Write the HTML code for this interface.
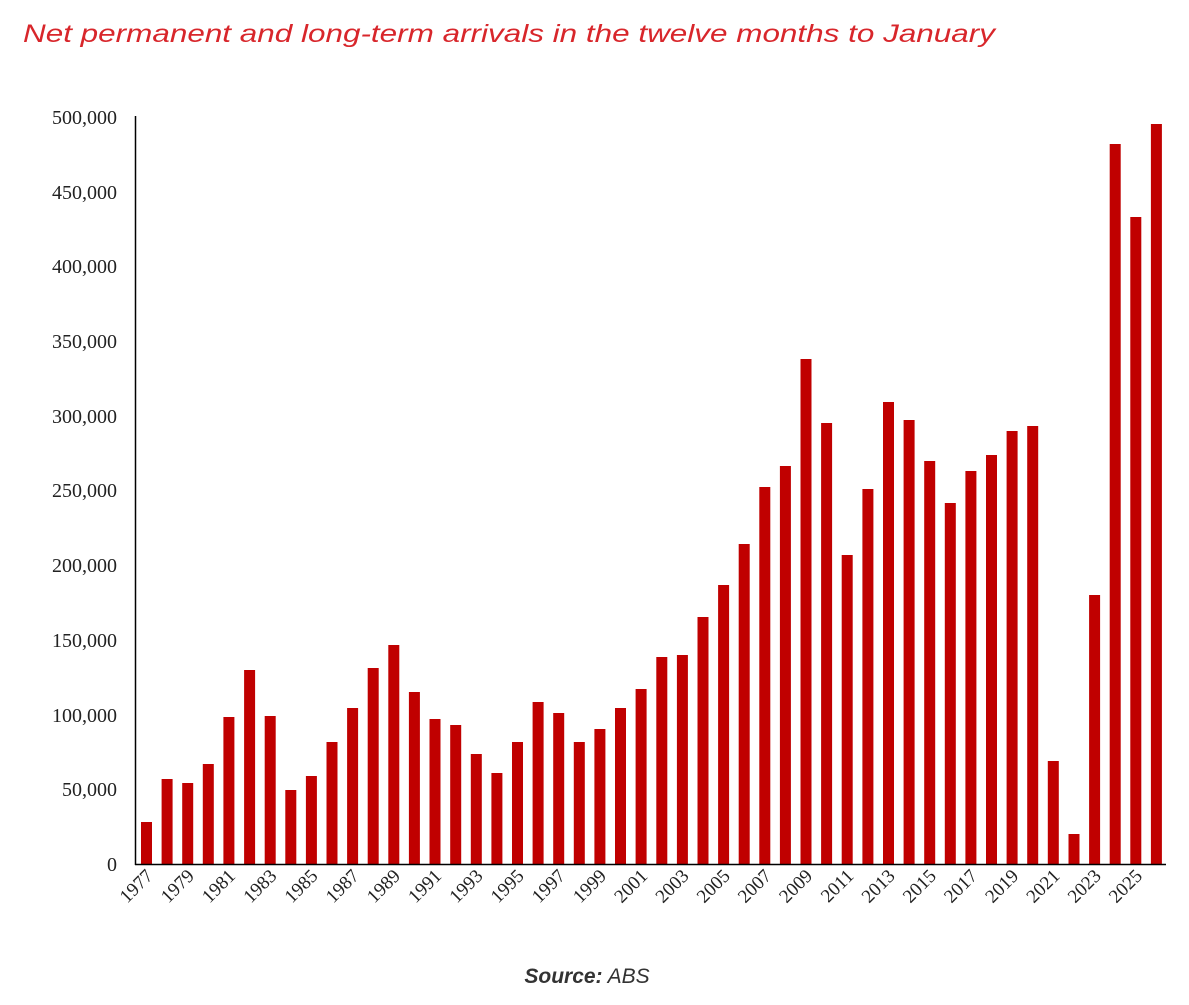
<!DOCTYPE html>
<html><head><meta charset="utf-8"><style>
html,body{margin:0;padding:0;background:#fff;width:1189px;height:1005px;overflow:hidden}
</style></head><body>
<svg width="1189" height="1005" xmlns="http://www.w3.org/2000/svg">
<text x="23" y="42" font-family="Liberation Sans, sans-serif" font-style="italic" font-size="25" fill="#d8262b" textLength="972" lengthAdjust="spacingAndGlyphs">Net permanent and long-term arrivals in the twelve months to January</text>
<g font-family="Liberation Serif, serif" font-size="20" fill="#222" text-anchor="end">
<text x="117" y="871">0</text>
<text x="117" y="796">50,000</text>
<text x="117" y="722">100,000</text>
<text x="117" y="647">150,000</text>
<text x="117" y="572">200,000</text>
<text x="117" y="497">250,000</text>
<text x="117" y="423">300,000</text>
<text x="117" y="348">350,000</text>
<text x="117" y="273">400,000</text>
<text x="117" y="199">450,000</text>
<text x="117" y="124">500,000</text>
</g>
<g fill="#c00000">
<rect x="141.0" y="822" width="11" height="42"/>
<rect x="161.6" y="779" width="11" height="85"/>
<rect x="182.2" y="783" width="11" height="81"/>
<rect x="202.8" y="764" width="11" height="100"/>
<rect x="223.4" y="717" width="11" height="147"/>
<rect x="244.1" y="670" width="11" height="194"/>
<rect x="264.7" y="716" width="11" height="148"/>
<rect x="285.3" y="790" width="11" height="74"/>
<rect x="305.9" y="776" width="11" height="88"/>
<rect x="326.5" y="742" width="11" height="122"/>
<rect x="347.1" y="708" width="11" height="156"/>
<rect x="367.7" y="668" width="11" height="196"/>
<rect x="388.3" y="645" width="11" height="219"/>
<rect x="408.9" y="692" width="11" height="172"/>
<rect x="429.5" y="719" width="11" height="145"/>
<rect x="450.2" y="725" width="11" height="139"/>
<rect x="470.8" y="754" width="11" height="110"/>
<rect x="491.4" y="773" width="11" height="91"/>
<rect x="512.0" y="742" width="11" height="122"/>
<rect x="532.6" y="702" width="11" height="162"/>
<rect x="553.2" y="713" width="11" height="151"/>
<rect x="573.8" y="742" width="11" height="122"/>
<rect x="594.4" y="729" width="11" height="135"/>
<rect x="615.0" y="708" width="11" height="156"/>
<rect x="635.6" y="689" width="11" height="175"/>
<rect x="656.3" y="657" width="11" height="207"/>
<rect x="676.9" y="655" width="11" height="209"/>
<rect x="697.5" y="617" width="11" height="247"/>
<rect x="718.1" y="585" width="11" height="279"/>
<rect x="738.7" y="544" width="11" height="320"/>
<rect x="759.3" y="487" width="11" height="377"/>
<rect x="779.9" y="466" width="11" height="398"/>
<rect x="800.5" y="359" width="11" height="505"/>
<rect x="821.1" y="423" width="11" height="441"/>
<rect x="841.7" y="555" width="11" height="309"/>
<rect x="862.4" y="489" width="11" height="375"/>
<rect x="883.0" y="402" width="11" height="462"/>
<rect x="903.6" y="420" width="11" height="444"/>
<rect x="924.2" y="461" width="11" height="403"/>
<rect x="944.8" y="503" width="11" height="361"/>
<rect x="965.4" y="471" width="11" height="393"/>
<rect x="986.0" y="455" width="11" height="409"/>
<rect x="1006.6" y="431" width="11" height="433"/>
<rect x="1027.2" y="426" width="11" height="438"/>
<rect x="1047.8" y="761" width="11" height="103"/>
<rect x="1068.5" y="834" width="11" height="30"/>
<rect x="1089.1" y="595" width="11" height="269"/>
<rect x="1109.7" y="144" width="11" height="720"/>
<rect x="1130.3" y="217" width="11" height="647"/>
<rect x="1150.9" y="124" width="11" height="740"/>
</g>
<line x1="135.5" y1="116" x2="135.5" y2="865" stroke="#000" stroke-width="1.5"/>
<line x1="135" y1="864.5" x2="1166" y2="864.5" stroke="#000" stroke-width="1.5"/>
<g font-family="Liberation Serif, serif" font-size="19" fill="#222" text-anchor="end">
<text transform="translate(154,877) rotate(-45)">1977</text>
<text transform="translate(195.2,877) rotate(-45)">1979</text>
<text transform="translate(236.4,877) rotate(-45)">1981</text>
<text transform="translate(277.7,877) rotate(-45)">1983</text>
<text transform="translate(318.9,877) rotate(-45)">1985</text>
<text transform="translate(360.1,877) rotate(-45)">1987</text>
<text transform="translate(401.3,877) rotate(-45)">1989</text>
<text transform="translate(442.5,877) rotate(-45)">1991</text>
<text transform="translate(483.8,877) rotate(-45)">1993</text>
<text transform="translate(525,877) rotate(-45)">1995</text>
<text transform="translate(566.2,877) rotate(-45)">1997</text>
<text transform="translate(607.4,877) rotate(-45)">1999</text>
<text transform="translate(648.6,877) rotate(-45)">2001</text>
<text transform="translate(689.9,877) rotate(-45)">2003</text>
<text transform="translate(731.1,877) rotate(-45)">2005</text>
<text transform="translate(772.3,877) rotate(-45)">2007</text>
<text transform="translate(813.5,877) rotate(-45)">2009</text>
<text transform="translate(854.7,877) rotate(-45)">2011</text>
<text transform="translate(896,877) rotate(-45)">2013</text>
<text transform="translate(937.2,877) rotate(-45)">2015</text>
<text transform="translate(978.4,877) rotate(-45)">2017</text>
<text transform="translate(1019.6,877) rotate(-45)">2019</text>
<text transform="translate(1060.8,877) rotate(-45)">2021</text>
<text transform="translate(1102.1,877) rotate(-45)">2023</text>
<text transform="translate(1143.3,877) rotate(-45)">2025</text>
</g>
<text x="587" y="983" text-anchor="middle" font-family="Liberation Sans, sans-serif" font-style="italic" font-size="21" fill="#333"><tspan font-weight="bold">Source:</tspan> ABS</text>
</svg>
</body></html>
